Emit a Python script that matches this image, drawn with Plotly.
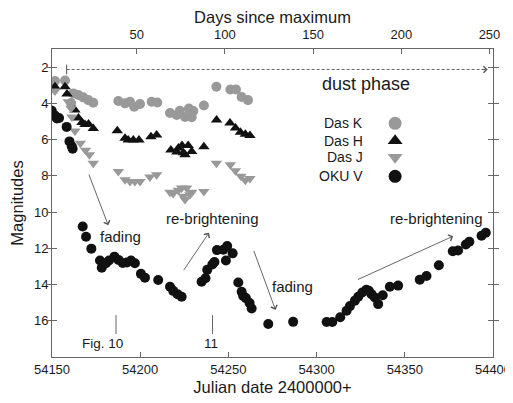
import plotly.graph_objects as go

# ---------------- data ----------------
K_jd = [54151.7, 54157.4, 54160.8, 54162.1, 54164.9, 54167.7, 54170.6, 54173.4,
        54187.6, 54191.4, 54194.2, 54196.6, 54199.9, 54206.5, 54209.7,
        54216.9, 54220.7, 54222.5, 54225.4, 54227.6, 54229.2, 54230.1, 54236.1,
        54243.2, 54251.1, 54254.3, 54257.5, 54261.1]
K_mag = [2.77, 2.74, 3.98, 3.45, 3.54, 3.67, 3.82, 3.97,
         3.87, 4.00, 3.91, 4.19, 4.04, 3.91, 3.95,
         4.53, 4.64, 4.41, 4.75, 4.28, 4.77, 4.42, 4.12,
         3.08, 3.24, 3.24, 3.65, 3.82]

H_jd = [54151.7, 54157.4, 54158.5, 54163.0, 54165.0, 54167.0, 54168.7, 54170.7, 54173.4,
        54187.0, 54191.4, 54193.2, 54196.1, 54199.3, 54206.1, 54209.3,
        54217.4, 54220.8, 54221.7, 54223.7, 54224.5, 54225.4, 54227.2, 54229.2, 54236.1,
        54243.3, 54250.9, 54254.0, 54256.8, 54259.6, 54262.2]
H_mag = [3.08, 3.08, 3.49, 4.37, 4.81, 5.06, 5.17, 5.14, 5.39,
         5.51, 5.92, 6.02, 6.02, 6.02, 5.84, 5.74,
         6.57, 6.68, 6.46, 6.33, 6.73, 6.84, 6.33, 6.66, 6.39,
         4.92, 5.08, 5.36, 5.60, 5.71, 5.77]

J_jd = [54151.7, 54159.2, 54160.8, 54161.3, 54163.0, 54166.1, 54169.0, 54171.2, 54173.4,
        54187.6, 54191.4, 54194.2, 54197.0, 54199.9, 54205.5, 54209.3,
        54216.9, 54218.7, 54221.6, 54223.5, 54224.4, 54225.4, 54226.3, 54228.2, 54229.2, 54236.1,
        54243.2, 54251.1, 54254.0, 54257.1, 54259.6, 54262.2]
J_mag = [3.32, 3.91, 4.27, 4.75, 5.52, 6.20, 6.59, 6.84, 7.30,
         7.76, 8.21, 8.31, 8.31, 8.31, 8.07, 7.94,
         8.91, 8.98, 8.80, 8.67, 9.13, 9.31, 8.67, 9.04, 8.91, 8.86,
         7.30, 7.39, 7.72, 8.02, 8.24, 8.15]

V_jd = [54149.8, 54151.7, 54152.8, 54154.0, 54158.3, 54159.9, 54161.2, 54161.7,
        54167.4, 54169.3, 54172.3, 54177.2, 54178.2, 54180.6, 54182.3, 54185.4, 54187.7,
        54190.1, 54192.5, 54194.8, 54197.0, 54200.4, 54202.7, 54210.2, 54216.9, 54218.7,
        54221.1, 54223.5,
        54234.8, 54237.0, 54238.0, 54240.9, 54242.1, 54243.5, 54247.1, 54248.6, 54249.3, 54252.4,
        54255.6, 54257.5, 54258.4, 54259.9, 54262.0, 54263.2, 54272.6, 54286.7,
        54305.7, 54308.9, 54313.4, 54317.0, 54318.9, 54321.7, 54323.6, 54325.9, 54328.2,
        54329.6, 54331.1, 54333.0, 54334.9, 54337.5, 54341.5, 54346.2, 54358.5, 54362.3,
        54369.3, 54377.2, 54380.2, 54384.6, 54386.6, 54393.5, 54395.9]
V_mag = [4.40, 4.67, 4.84, 4.81, 5.30, 6.10, 6.37, 6.51,
         10.80, 11.36, 12.02, 12.67, 13.07, 12.83, 12.67, 12.46, 12.64,
         12.81, 12.78, 12.68, 12.83, 13.41, 13.62, 13.75, 14.12, 14.35,
         14.53, 14.67,
         13.85, 13.65, 13.19, 12.89, 12.76, 12.10, 12.08, 12.67, 11.88, 12.28,
         13.89, 14.40, 14.63, 14.75, 15.02, 15.32, 16.18, 16.06,
         16.07, 16.07, 15.81, 15.45, 15.19, 14.89, 14.67, 14.44, 14.29,
         14.34, 14.53, 14.72, 15.08, 14.59, 14.12, 14.06, 13.73, 13.53,
         12.94, 12.16, 12.12, 11.79, 11.64, 11.31, 11.14]

series_names = ["Das K", "Das H", "Das J", "OKU V"]
x_ticks = [54150, 54200, 54250, 54300, 54350, 54400]
top_ticks = [50, 100, 150, 200, 250]
y_ticks = [2, 4, 6, 8, 10, 12, 14, 16]

# maximum epoch used for the top axis (days since maximum)
JD_MAX = 54148.0

# ---------------- styling ----------------
FONT = "Liberation Sans, Arial, Helvetica, sans-serif"
TXT = "#1a1a1a"
GRAY = "#999999"
BLACK = "#111111"
AXC = "#666666"
ARC = "#555555"

styles = [
    dict(symbol="circle", color=GRAY, size=10),
    dict(symbol="triangle-up", color=BLACK, size=10),
    dict(symbol="triangle-down", color=GRAY, size=10),
    dict(symbol="circle", color=BLACK, size=10),
]
data = [(K_jd, K_mag), (H_jd, H_mag), (J_jd, J_mag), (V_jd, V_mag)]

fig = go.Figure()
for (xs, ys), st, nm in zip(data, styles, series_names):
    fig.add_trace(go.Scatter(
        x=xs, y=ys, mode="markers", name=nm, showlegend=False,
        marker=dict(symbol=st["symbol"], color=st["color"], size=st["size"],
                    line=dict(width=0))))

# invisible trace to activate top axis
fig.add_trace(go.Scatter(x=[t for t in top_ticks], y=[None] * len(top_ticks),
                         xaxis="x2", mode="markers", showlegend=False,
                         hoverinfo="skip"))

# ---------------- manual legend (text left, symbol right) ----------------
leg_x_text = 54327.5
leg_x_mark = 54344.5
leg_y = [5.10, 6.06, 6.97, 8.03]
for nm, st, yy in zip(series_names, styles, leg_y):
    fig.add_annotation(x=leg_x_text, y=yy, text=nm, showarrow=False,
                       xanchor="right", yanchor="middle",
                       font=dict(family=FONT, size=14, color=TXT))
fig.add_trace(go.Scatter(
    x=[leg_x_mark] * 4, y=leg_y, mode="markers", showlegend=False,
    hoverinfo="skip",
    marker=dict(symbol=[s["symbol"] for s in styles],
                color=[s["color"] for s in styles], size=13,
                line=dict(width=0))))

# ---------------- annotations ----------------
texts = [
    ("fading", 54189.0, 11.36),
    ("re-brightening", 54241.2, 10.36),
    ("fading", 54286.6, 14.11),
    ("re-brightening", 54368.0, 10.37),
]
for t, xx, yy in texts:
    fig.add_annotation(x=xx, y=yy, text=t, showarrow=False,
                       font=dict(family=FONT, size=15, color=TXT))

arrows = [
    (54170.6, 7.85, 54181.9, 10.73),
    (54224.1, 13.29, 54239.0, 11.14),
    (54264.1, 12.06, 54276.7, 15.40),
    (54322.6, 13.76, 54377.4, 11.33),
]
for x0, y0, x1, y1 in arrows:
    fig.add_annotation(x=x1, y=y1, ax=x0, ay=y0, axref="x", ayref="y",
                       text="", showarrow=True, arrowhead=4, arrowsize=1.4,
                       arrowwidth=0.9, arrowcolor=ARC)

# dust phase dashed arrow
dust_start, dust_end, dust_mag = 54158.3, 54397.0, 2.13
fig.add_shape(type="line", x0=dust_start, x1=dust_end - 1, y0=dust_mag, y1=dust_mag,
              line=dict(color=ARC, width=0.9, dash="3px,2px"))
fig.add_shape(type="line", x0=dust_start, x1=dust_start, y0=1.86, y1=2.40,
              line=dict(color=ARC, width=1))
fig.add_annotation(x=dust_end, y=dust_mag, ax=dust_end - 4, ay=dust_mag,
                   axref="x", ayref="y", text="", showarrow=True,
                   arrowhead=4, arrowsize=1.4, arrowwidth=0.9, arrowcolor=ARC)
fig.add_annotation(x=54302.2, y=2.94, text="dust phase", showarrow=False,
                   xanchor="left", font=dict(family=FONT, size=18, color=TXT))

# figure references
for lab, xx, xl in [("Fig. 10", 54186.3, 54178.6), ("11", 54241.0, 54240.1)]:
    fig.add_shape(type="line", x0=xx, x1=xx, y0=15.69, y1=16.73,
                  line=dict(color=AXC, width=1))
    fig.add_annotation(x=xl, y=17.28, text=lab, showarrow=False,
                       font=dict(family=FONT, size=13.5, color=TXT))

# ---------------- layout ----------------
axis_common = dict(showline=True, linecolor=AXC, linewidth=1, ticks="inside",
                   ticklen=5, tickcolor=AXC, showgrid=False, zeroline=False,
                   automargin=False,
                   tickfont=dict(family=FONT, size=13, color=TXT))

# the page body has an 8px margin, so the figure is sized to fit the window
fig.update_layout(
    width=505, height=395,
    margin=dict(l=44, r=20, t=41, b=46),
    paper_bgcolor="white", plot_bgcolor="white",
    showlegend=False,
    xaxis=dict(range=[54150, 54400], tickvals=x_ticks, tickformat="d",
               mirror=True, ticklabelstandoff=0,
               title=dict(text="Julian date 2400000+", standoff=5,
                          font=dict(family=FONT, size=16.5, color=TXT)),
               **axis_common),
    xaxis2=dict(range=[54150 - JD_MAX, 54400 - JD_MAX], tickvals=top_ticks,
                overlaying="x", side="top", ticklabelstandoff=4,
                title=dict(text="Days since maximum", standoff=2,
                           font=dict(family=FONT, size=16.5, color=TXT)),
                **axis_common),
    yaxis=dict(range=[18, 1], tickvals=y_ticks, mirror="allticks",
               title=dict(text="Magnitudes", standoff=6,
                          font=dict(family=FONT, size=16.5, color=TXT)),
               **axis_common),
)

fig.write_html("out.html")
